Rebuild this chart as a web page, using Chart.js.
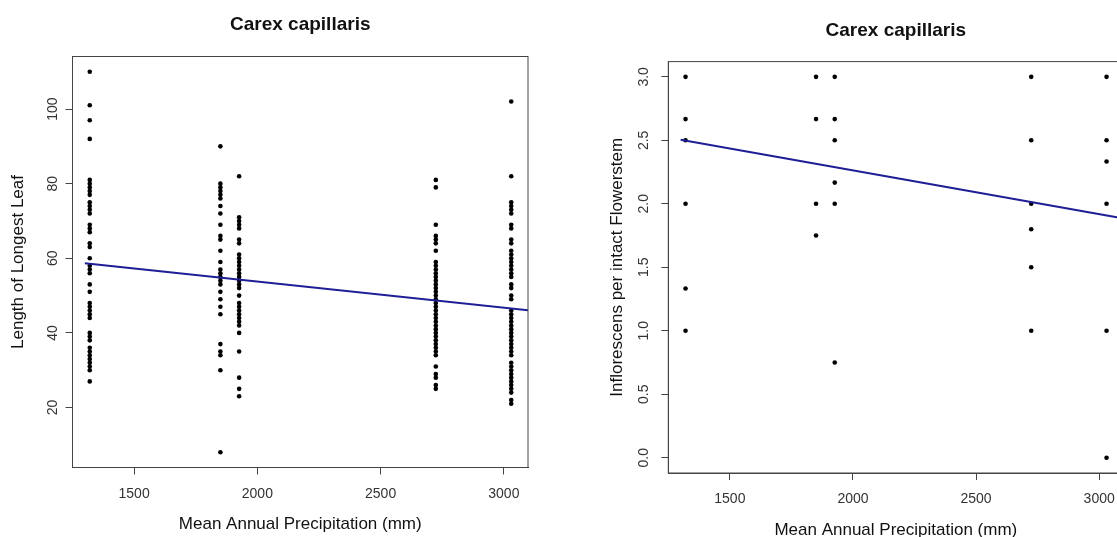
<!DOCTYPE html>
<html>
<head>
<meta charset="utf-8">
<script src="https://cdn.jsdelivr.net/npm/chart.js@4.4.1/dist/chart.umd.min.js"></script>
<style>
    html, body { margin: 0; padding: 0; background: #fff; overflow: hidden; width: 1117px; height: 537px; }
    canvas { position: absolute; top: 0; }
    #leaf-chart { left: 0; }
    #infl-chart { left: 560px; }
</style>
</head>
<body>
<canvas id="leaf-chart" width="560" height="537"></canvas>
<canvas id="infl-chart" width="600" height="545"></canvas>
<script>
// precipitation sites (x positions of the point columns)
var precip = [1320, 1850, 1926, 2724, 3030];

// tick labels
var precipTicks = [1500, 2000, 2500, 3000];
var leafTicks = [20, 40, 60, 80, 100];
var inflTicks = [0, 0.5, 1, 1.5, 2, 2.5, 3];

// length of longest leaf, one array per site
var leafAt1320 = [110, 101, 97, 92, 81, 80, 79, 78, 77, 75, 74, 73, 72, 69, 68, 67, 64, 63, 60, 58, 57, 56, 53, 51, 48, 47, 46, 45, 44, 40, 39, 38, 36, 35, 34, 33, 32, 31, 30, 27];
var leafAt1850 = [90, 80, 79, 78, 77, 76, 74, 72, 69, 66, 65, 62, 59, 57, 56, 55, 54, 53, 51, 49, 47, 45, 37, 35, 34, 30, 8];
var leafAt1926 = [82, 71, 70, 69, 68, 65, 64, 61, 60, 59, 58, 57, 56, 55, 54, 53, 52, 50, 48, 47, 46, 45, 44, 43, 42, 40, 35, 28, 25, 23];
var leafAt2724 = [81, 79, 69, 66, 65, 64, 62, 59, 58, 57, 56, 55, 54, 53, 52, 51, 50, 49, 48, 47, 46, 45, 44, 43, 42, 41, 40, 39, 38, 37, 36, 35, 34, 31, 29, 28, 26, 25];
var leafAt3030 = [102, 82, 75, 74, 73, 72, 69, 68, 65, 64, 62, 61, 60, 59, 58, 57, 56, 55, 53, 52, 50, 49, 46, 45, 44, 43, 42, 41, 40, 39, 38, 37, 36, 35, 34, 32, 31, 30, 29, 28, 27, 26, 25, 24, 22, 21];

// inflorescens per intact flowerstem, one array per site
var inflAt1320 = [3.0, 2.667, 2.5, 2.0, 1.333, 1.0];
var inflAt1850 = [3.0, 2.667, 2.0, 1.75];
var inflAt1926 = [3.0, 2.667, 2.5, 2.167, 2.0, 0.75];
var inflAt2724 = [3.0, 2.5, 2.0, 1.8, 1.5, 1.0];
var inflAt3030 = [3.0, 2.5, 2.333, 2.0, 1.0, 0.0];

// fitted line end points
var fitX = [1300, 3100];
var leafFitY = [58.64, 46.08];
var inflFitY = [2.505, 1.885];

Chart.defaults.font.family = '"Liberation Sans", Arial, sans-serif';

function toPoints(xs, columns) {
    var pts = [];
    columns.forEach(function (col, i) {
        col.forEach(function (v) {
            pts.push({ x: xs[i], y: v });
        });
    });
    return pts;
}

function toLine(xs, ys) {
    return xs.map(function (x, i) {
        return { x: x, y: ys[i] };
    });
}

function fixedTicks(values) {
    return function (scale) {
        scale.ticks = values.map(function (v) {
            return { value: v };
        });
    };
}

// R style box round the plot region and a title over its centre
var rFrame = {
    id: "rFrame",
    afterDraw: function (chart, args, opts) {
        var a = chart.chartArea;
        var ctx = chart.ctx;
        ctx.save();
        ctx.strokeStyle = "#444";
        ctx.lineWidth = 1;
        ctx.strokeRect(a.left, a.top, a.right - a.left, a.bottom - a.top);
        ctx.fillStyle = "#111";
        ctx.font = 'bold 19px "Liberation Sans", Arial, sans-serif';
        ctx.textAlign = "center";
        ctx.textBaseline = "middle";
        ctx.fillText(opts.text, (a.left + a.right) / 2, opts.y);
        ctx.restore();
    },
};

function makeChart(id, cfg) {
    var ctx = document.getElementById(id).getContext("2d");
    return new Chart(ctx, {
        type: "scatter",
        data: {
            datasets: [
                {
                    type: "line",
                    data: toLine(fitX, cfg.fitY),
                    borderColor: "#1e1e96",
                    borderWidth: 2,
                    pointRadius: 0,
                    fill: false,
                    order: 0,
                },
                {
                    data: cfg.points,
                    pointRadius: 2.3,
                    pointBackgroundColor: "#000",
                    pointBorderWidth: 0,
                    order: 1,
                },
            ],
        },
        options: {
            responsive: false,
            animation: false,
            events: [],
            layout: { padding: cfg.padding },
            plugins: {
                legend: { display: false },
                tooltip: { enabled: false },
                rFrame: { text: "Carex capillaris", y: cfg.titleY },
            },
            scales: {
                x: {
                    type: "linear",
                    min: 1250,
                    max: 3098,
                    afterBuildTicks: fixedTicks(precipTicks),
                    afterFit: function (s) { s.height = cfg.xHeight; },
                    grid: { drawOnChartArea: false, tickLength: 7, color: "#444" },
                    border: { color: "#444" },
                    ticks: {
                        autoSkip: false,
                        maxRotation: 0,
                        color: "#333",
                        font: { size: 14 },
                        padding: cfg.xTickPad,
                        callback: function (v) { return String(v); },
                    },
                    title: {
                        display: true,
                        text: "Mean Annual Precipitation (mm)",
                        color: "#111",
                        font: { size: 17 },
                        padding: { top: 0, bottom: cfg.xTitlePad },
                    },
                },
                y: {
                    min: cfg.yMin,
                    max: cfg.yMax,
                    afterBuildTicks: fixedTicks(cfg.yTicks),
                    afterFit: function (s) { s.width = cfg.yWidth; },
                    grid: { drawOnChartArea: false, tickLength: 7, color: "#444" },
                    border: { color: "#444" },
                    ticks: {
                        autoSkip: false,
                        minRotation: 90,
                        maxRotation: 90,
                        crossAlign: "center",
                        color: "#333",
                        font: { size: 14 },
                        padding: cfg.yTickPad,
                        callback: cfg.yFormat,
                    },
                    title: {
                        display: true,
                        text: cfg.yTitle,
                        color: "#111",
                        font: { size: 17 },
                        padding: { top: cfg.yTitlePad, bottom: 0 },
                    },
                },
            },
        },
        plugins: [rFrame],
    });
}

document.addEventListener("DOMContentLoaded", function () {
    makeChart("leaf-chart", {
        points: toPoints(precip, [leafAt1320, leafAt1850, leafAt1926, leafAt2724, leafAt3030]),
        fitY: leafFitY,
        padding: { top: 56.5, right: 32, bottom: 0, left: 0 },
        titleY: 25,
        xHeight: 69.5,
        xTickPad: 11,
        xTitlePad: 2.8,
        yMin: 3.92,
        yMax: 114.08,
        yTicks: leafTicks,
        yWidth: 72.5,
        yTickPad: 1,
        yTitlePad: 8.3,
        yTitle: "Length of Longest Leaf",
        yFormat: function (v) { return String(v); },
    });

    makeChart("infl-chart", {
        points: toPoints(precip, [inflAt1320, inflAt1850, inflAt1926, inflAt2724, inflAt3030]),
        fitY: inflFitY,
        padding: { top: 61.6, right: 36.7, bottom: 0, left: 0 },
        titleY: 30.8,
        xHeight: 72,
        xTickPad: 10.3,
        xTitlePad: 4.8,
        yMin: -0.12,
        yMax: 3.12,
        yTicks: inflTicks,
        yWidth: 108.3,
        yTickPad: 7.1,
        yTitlePad: 47.3,
        yTitle: "Inflorescens per intact Flowerstem",
        yFormat: function (v) { return v.toFixed(1); },
    });
});
</script>
</body>
</html>
